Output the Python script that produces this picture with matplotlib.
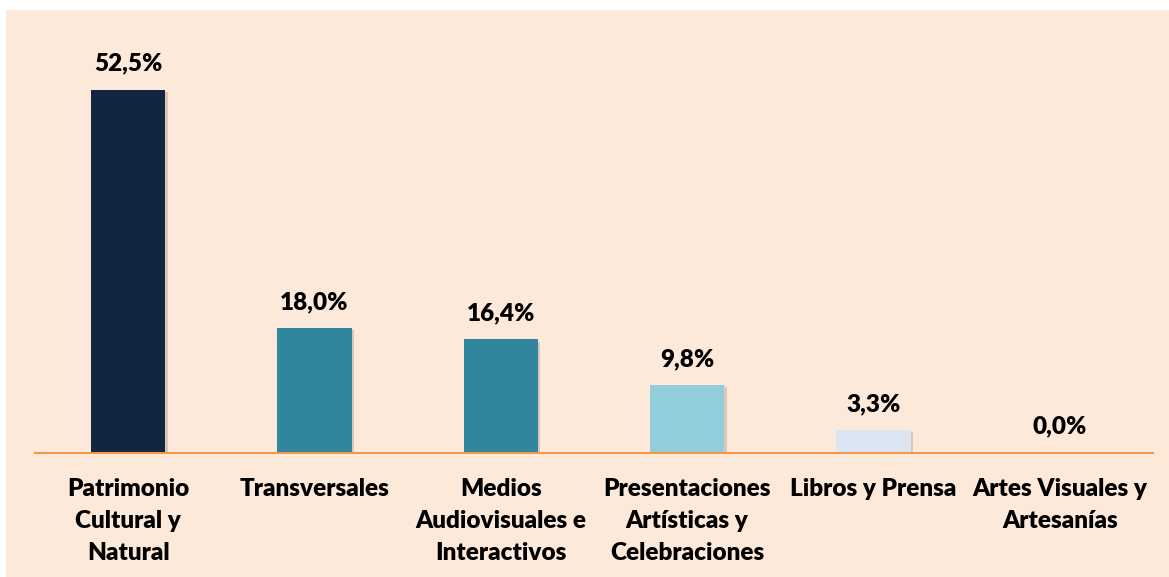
import matplotlib.pyplot as plt
import matplotlib.patheffects as pe
from matplotlib.patches import Rectangle

categories = [
    "Patrimonio\nCultural y\nNatural",
    "Transversales",
    "Medios\nAudiovisuales e\nInteractivos",
    "Presentaciones\nArtísticas y\nCelebraciones",
    "Libros y Prensa",
    "Artes Visuales y\nArtesanías",
]
values = [52.5, 18.0, 16.4, 9.8, 3.3, 0.0]
labels = ["52,5%", "18,0%", "16,4%", "9,8%", "3,3%", "0,0%"]
colors = ["#12263F", "#31859C", "#31859C", "#92CDDC", "#DCE6F2", "#DCE6F2"]

plt.rcParams["font.family"] = ["Lato", "DejaVu Sans"]

W, H = 1169, 577
fig = plt.figure(figsize=(W / 100, H / 100), dpi=100)
fig.patch.set_facecolor("white")
fig.patches.append(Rectangle((6 / W, 0), 1 - 6 / W, 1 - 10 / H,
                             transform=fig.transFigure, facecolor="#FDE9D9",
                             edgecolor="none", zorder=-10))

ax = fig.add_axes([35 / W, (H - 453) / H, 1118 / W, 443 / H])
ax.set_facecolor("none")

xs = range(len(values))
bars = ax.bar(xs, values, width=0.40, color=colors, zorder=3)
for b in bars:
    b.set_path_effects([pe.SimplePatchShadow(offset=(1.5, -1.5), shadow_rgbFace="#9a8a80", alpha=0.35), pe.Normal()])

for x, v, t in zip(xs, values, labels):
    ax.annotate(t, (x, v), xytext=(0, 11), textcoords="offset points",
                ha="center", va="bottom", fontsize=17.5, fontweight="heavy")

ax.set_xlim(-0.5, 5.5)
ax.set_ylim(0, 64)
for s in ["top", "right", "left"]:
    ax.spines[s].set_visible(False)
ax.spines["bottom"].set_color("#F79646")
ax.spines["bottom"].set_linewidth(1.5)
ax.spines["bottom"].set_zorder(4)
ax.set_yticks([])
ax.set_xticks(list(xs))
ax.set_xticklabels(categories, fontsize=17.5, fontweight="heavy", linespacing=1.56)
ax.tick_params(axis="x", length=0, pad=18)

fig.savefig("out.png", dpi=100)
